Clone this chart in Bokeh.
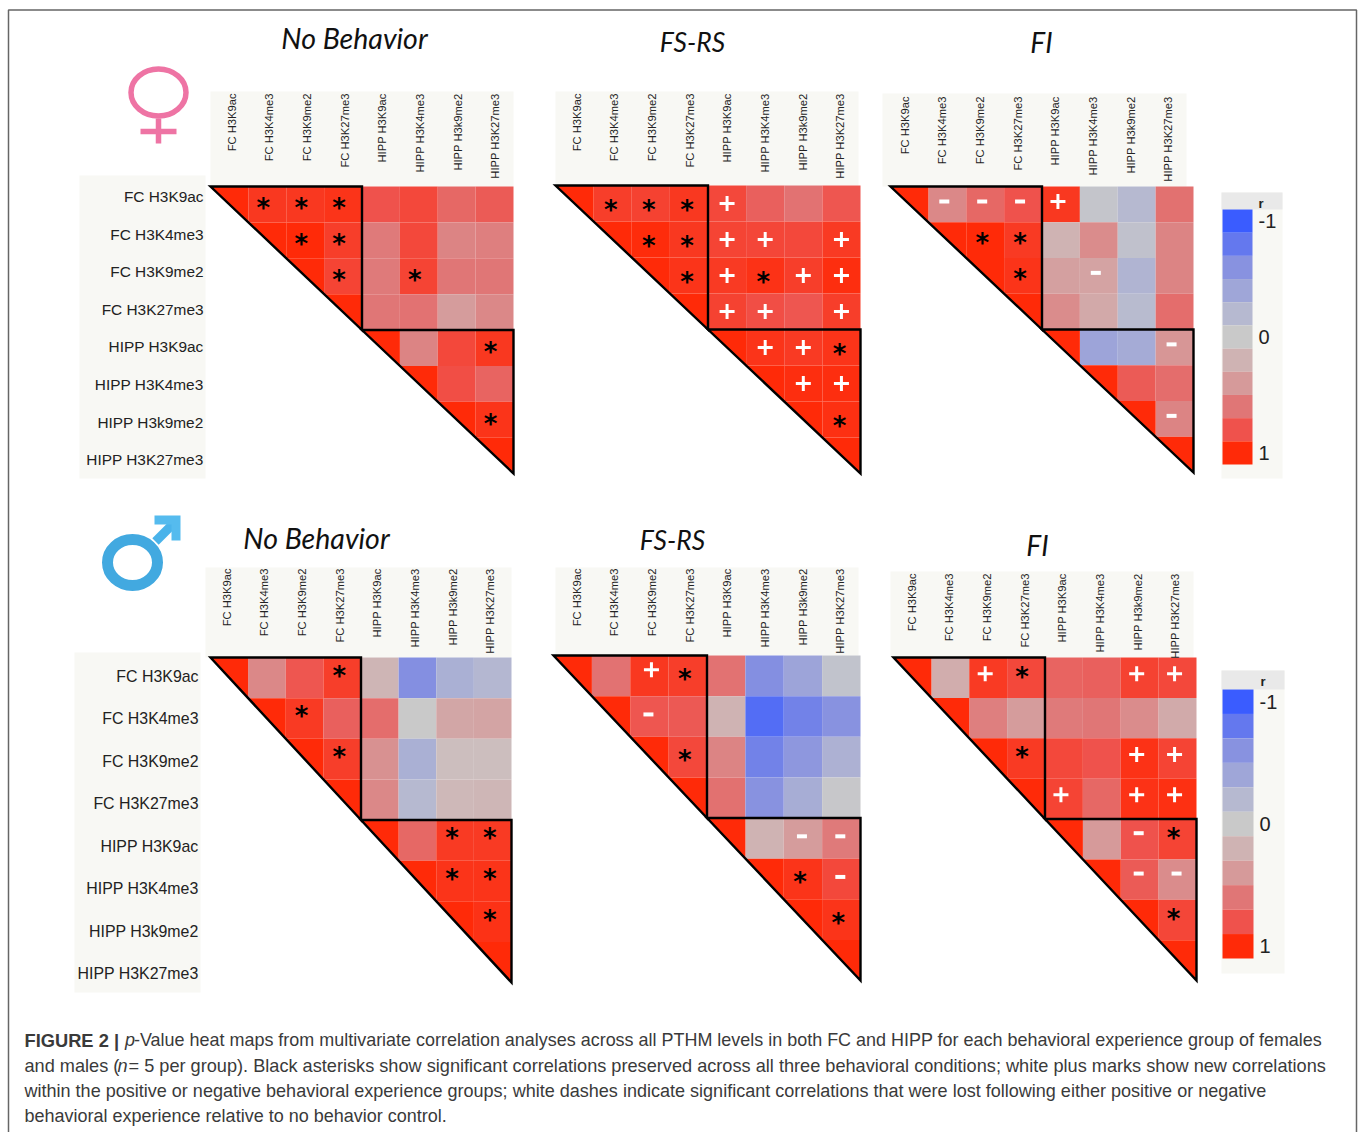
from bokeh.plotting import figure
from bokeh.models import Range1d
from bokeh.core.properties import value
from bokeh.embed import file_html
from bokeh.resources import INLINE
import numpy as np
import math

row_labels = ["FC H3K9ac", "FC H3K4me3", "FC H3K9me2", "FC H3K27me3",
              "HIPP H3K9ac", "HIPP H3K4me3", "HIPP H3k9me2", "HIPP H3K27me3"]
col_labels_f = ["FC H3K9ac", "FC H3K4me3", "FC H3K9me2", "FC H3K27me3",
                "HIPP H3K9ac", "HIPP H3K4me3", "HIPP H3k9me2", "HIPP H3K27me3"]
col_labels_m = col_labels_f

scale_r = [-1, -0.8, -0.6, -0.4, -0.2, 0, 0.2, 0.4, 0.6, 0.8, 1]
scale_colors = ["#3a5cff", "#6478ee", "#8892e0", "#9fa6d8", "#b6b9d0", "#c9c9c9",
                "#cfb3b3", "#d69a9a", "#e07676", "#ef524c", "#ff2a08"]
scale_ticks = [("-1", 0), ("0", 5), ("1", 10)]

# upper-triangle correlations, row by row (diagonal left out)
r_f_nb = [[.93, .93, .95, .80, .85, .68, .75],
          [1.0, .90, .58, .85, .52, .55],
          [.87, .58, .87, .60, .60],
          [.60, .62, .38, .50],
          [.52, .85, .93],
          [.82, .70],
          [.95]]
r_f_fs = [[.90, .88, .93, .85, .72, .62, .78],
          [.99, .93, .87, .86, .85, .92],
          [.95, .92, .96, .90, .98],
          [.88, .82, .78, .90],
          [.95, .92, .95],
          [.98, .98],
          [.97]]
r_f_fi = [[.50, .68, .80, .93, -.05, -.20, .63],
          [1.0, .92, .20, .48, -.10, .52],
          [.95, .35, .33, -.25, .52],
          [.48, .28, -.18, .65],
          [-.42, -.35, .42],
          [.75, .65],
          [.52]]
r_m_nb = [[.50, .78, .90, .18, -.62, -.30, -.22],
          [.92, .72, .65, 0.0, .30, .32],
          [.90, .45, -.30, .10, .10],
          [.50, -.20, .15, .17],
          [.68, .92, .92],
          [.95, .95],
          [.96]]
r_m_fs = [[.62, .93, .90, .62, -.62, -.42, -.08],
          [.78, .76, .20, -.88, -.72, -.60],
          [.85, .52, -.72, -.55, -.28],
          [.63, -.60, -.33, -.02],
          [.20, .38, .58],
          [.95, .85],
          [.95]]
r_m_fi = [[.25, .92, .85, .70, .72, .88, .85],
          [.55, .38, .58, .60, .48, .27],
          [.92, .85, .80, .96, .87],
          [.87, .68, .96, .97],
          [.40, .80, .87],
          [.75, .48],
          [.86]]

# significance marks as (row, column)
stars_f_nb = [(0, 1), (0, 2), (0, 3), (1, 2), (1, 3), (2, 3), (2, 5), (4, 7), (6, 7)]
plus_f_nb = []
dash_f_nb = []
stars_f_fs = [(0, 1), (0, 2), (0, 3), (1, 2), (1, 3), (2, 3), (2, 5), (4, 7), (6, 7)]
plus_f_fs = [(0, 4), (1, 4), (1, 5), (1, 7), (2, 4), (2, 6), (2, 7), (3, 4), (3, 5), (3, 7),
             (4, 5), (4, 6), (5, 6), (5, 7)]
dash_f_fs = []
stars_f_fi = [(1, 2), (1, 3), (2, 3)]
plus_f_fi = [(0, 4)]
dash_f_fi = [(0, 1), (0, 2), (0, 3), (2, 5), (4, 7), (6, 7)]
stars_m_nb = [(0, 3), (1, 2), (2, 3), (4, 6), (4, 7), (5, 6), (5, 7), (6, 7)]
plus_m_nb = []
dash_m_nb = []
stars_m_fs = [(0, 3), (2, 3), (5, 6), (6, 7)]
plus_m_fs = [(0, 2)]
dash_m_fs = [(1, 2), (4, 6), (4, 7), (5, 7)]
stars_m_fi = [(0, 3), (2, 3), (4, 7), (6, 7)]
plus_m_fi = [(0, 2), (0, 6), (0, 7), (2, 6), (2, 7), (3, 4), (3, 6), (3, 7)]
dash_m_fi = [(4, 6), (5, 6), (5, 7)]

title_nb, title_fs, title_fi = "No Behavior", "FS-RS", "FI"

caption = [
    [("FIGURE 2 |", "bold", 24), ("p", "italic", 124.5),
     ("-Value heat maps from multivariate correlation analyses across all PTHM levels in both FC and HIPP for each behavioral experience group of females", "normal", 133.5)],
    [("and males (", "normal", 24), ("n", "italic", 117),
     ("= 5 per group). Black asterisks show significant correlations preserved across all three behavioral conditions; white plus marks show new correlations", "normal", 128)],
    [("within the positive or negative behavioral experience groups; white dashes indicate significant correlations that were lost following either positive or negative", "normal", 24)],
    [("behavioral experience relative to no behavior control.", "normal", 24)],
]
caption_sizes = ["17.97px", "18.17px", "18.05px", "18px"]

BG = "#f8f8f4"
W, H = 1358, 1132
p = figure(width=W, height=H, x_range=Range1d(0, W), y_range=Range1d(H, 0),
           output_backend="svg", toolbar_location=None, min_border=0,
           background_fill_color="white", border_fill_color="white", outline_line_color=None)
p.xaxis.visible = False
p.yaxis.visible = False
p.grid.visible = False


def color_of(r):
    rgb = [int(scale_colors[i][j:j + 2], 16) for i in range(len(scale_colors)) for j in (1, 3, 5)]
    rgb = np.array(rgb).reshape(-1, 3)
    return "#%02x%02x%02x" % tuple(int(round(np.interp(r, scale_r, rgb[:, k]))) for k in range(3))


def panel(vals, stars, plus, dash, col_labels, x0, x1, y0, y1, hx0, hx1, hy0, hy1, lab_x0, lab_top,
          star_off=(0, 0), plus_off=(0, 0), dash_off=(0, 0)):
    cw, ch = (x1 - x0) / 8, (y1 - y0) / 8
    p.quad(left=[hx0], right=[hx1], top=[hy0], bottom=[hy1], fill_color=BG, line_color=None)
    L, R, T, B, C = [], [], [], [], []
    for i, row in enumerate(vals):
        for k, v in enumerate(row):
            c = i + 1 + k
            L.append(x0 + c * cw); R.append(x0 + (c + 1) * cw)
            T.append(y0 + i * ch); B.append(y0 + (i + 1) * ch)
            C.append(color_of(v))
    p.quad(left=L, right=R, top=T, bottom=B, fill_color=C, line_color=None)
    xs = [[x0 + i * cw, x0 + (i + 1) * cw, x0 + (i + 1) * cw] for i in range(8)]
    ys = [[y0 + i * ch, y0 + i * ch, y0 + (i + 1) * ch] for i in range(8)]
    p.patches(xs, ys, fill_color=color_of(1), line_color=None)
    p.patches([[x0, x0 + 4 * cw, x0 + 4 * cw], [x0 + 4 * cw, x1, x1]],
              [[y0, y0, y0 + 4 * ch], [y0 + 4 * ch, y0 + 4 * ch, y1]],
              fill_color=None, line_color="black", line_width=2.4, line_join="miter")
    p.text([lab_x0 + i * 37.7 for i in range(8)], [lab_top] * 8, text=col_labels,
           angle=math.pi / 2, text_align="right", text_baseline="middle",
           text_font=value("Liberation Sans"), text_font_size="11.2px", text_color="#222222")

    def mx(lst, off):
        return [x0 + (c + .5) * cw + off[0] for _, c in lst]

    def my(lst, off):
        return [y0 + (r + .5) * ch + off[1] for r, _ in lst]
    if stars:
        p.text(mx(stars, star_off), my(stars, star_off), text=["*"] * len(stars), text_align="center",
               text_baseline="alphabetic", text_font=value("DejaVu Sans"), text_font_style="bold",
               text_font_size="26px", text_color="black")
    if plus:
        p.scatter(mx(plus, plus_off), my(plus, plus_off), marker="cross", size=15, line_color="white", line_width=3)
    if dash:
        p.scatter(mx(dash, dash_off), my(dash, dash_off), marker="dash", size=10, line_color="white", line_width=4)


def row_block(x0, x1, y0, y1, right, y_first, step, size):
    p.quad(left=[x0], right=[x1], top=[y0], bottom=[y1], fill_color=BG, line_color=None)
    p.text([right] * 8, [y_first + i * step for i in range(8)], text=row_labels,
           text_align="right", text_baseline="middle",
           text_font=value("Liberation Sans"), text_font_size=size, text_color="#222222")


def legend(x0, x1, y0, y_head, y_cells, y_end, cx1, lab_x, r_x, r_y):
    p.quad(left=[x0], right=[x1], top=[y0], bottom=[y_end], fill_color=BG, line_color=None)
    p.quad(left=[x0], right=[x1], top=[y0], bottom=[y_head], fill_color="#e9e9e9", line_color=None)
    n = len(scale_colors)
    step = (y_cells - y_head) / n
    p.quad(left=[x0 + 1] * n, right=[cx1] * n,
           top=[y_head + i * step for i in range(n)], bottom=[y_head + (i + 1) * step for i in range(n)],
           fill_color=scale_colors, line_color=None)
    p.text([lab_x] * 3, [y_head + (k + .5) * step for _, k in scale_ticks], text=[t for t, _ in scale_ticks],
           text_align="left", text_baseline="middle", text_font=value("Liberation Sans"),
           text_font_size="20px", text_color="#222222")
    p.text([r_x], [r_y], text=["r"], text_align="left", text_baseline="middle", text_font=value("Liberation Sans"),
           text_font_style="bold", text_font_size="13px", text_color="#222222")


p.line([8, 8, 1356, 1356], [1132, 9.5, 9.5, 1132], line_color="#666666", line_width=1.5)

row_block(79, 205, 175, 478, 203, 196, 37.6, "15.4px")
row_block(74, 200, 652, 992, 198, 675.5, 42.5, "15.9px")

panel(r_f_nb, stars_f_nb, plus_f_nb, dash_f_nb, col_labels_f, 210, 513, 186, 473, 210, 513, 91, 186, 231, 93,
      star_off=(-4, 4))
panel(r_f_fs, stars_f_fs, plus_f_fs, dash_f_fs, col_labels_f, 555, 860, 185, 473, 555, 858, 91, 185, 576, 93,
      star_off=(-2, 6), plus_off=(0, 0))
panel(r_f_fi, stars_f_fi, plus_f_fi, dash_f_fi, col_labels_f, 890, 1193, 186, 472, 882, 1186, 93, 186, 904, 96,
      star_off=(-3, 3), plus_off=(-3, -3), dash_off=(-3, -3))
panel(r_m_nb, stars_m_nb, plus_m_nb, dash_m_nb, col_labels_m, 210, 511, 657, 982, 205, 511, 567, 657, 226, 568,
      star_off=(-3, -2))
panel(r_m_fs, stars_m_fs, plus_m_fs, dash_m_fs, col_labels_m, 553, 860, 655, 980, 555, 858, 567, 655, 576, 568,
      star_off=(-3, 3), plus_off=(2, -6), dash_off=(-1, -2))
panel(r_m_fi, stars_m_fi, plus_m_fi, dash_m_fi, col_labels_m, 893, 1196, 657, 980, 890, 1193, 571, 657, 911, 573,
      star_off=(-4, -1), plus_off=(-3, -4), dash_off=(-1, -6))

for t, x, y, s in [(title_nb, 354, 37, "28.5px"), (title_fs, 692, 41, "26.5px"), (title_fi, 1041, 41, "28px"),
                   (title_nb, 316, 537, "28.5px"), (title_fs, 672, 539, "26.5px"), (title_fi, 1037, 544, "28px")]:
    p.text([x], [y], text=[t], text_align="center", text_baseline="middle", text_font=value("Lato"),
           text_font_style="italic", text_font_size=s, text_color="#111111")

legend(1221, 1282, 192, 209, 464, 478, 1252, 1258, 1258, 203)
legend(1221, 1284, 670, 689, 958, 973, 1253, 1259, 1260, 681)

PINK, BLUE = "#ee74a4", "#42a9e0"
p.ellipse([158], [92], width=55, height=47, fill_color=None, line_color=PINK, line_width=5.5)
p.line([158, 158], [118, 143], line_color=PINK, line_width=5.5)
p.line([140, 176], [131, 131], line_color=PINK, line_width=5.5)
p.ellipse([132], [562], width=50, height=46, fill_color=None, line_color=BLUE, line_width=11)
p.line([155, 176], [541, 520], line_color="#4ab3ea", line_width=9)
p.patches([[154, 180, 180, 171, 171, 154]], [[515, 515, 540, 540, 524, 524]], fill_color="#55bbee", line_color=None)

for line, y, size in zip(caption, [1039.5, 1065.5, 1090.5, 1115.5], caption_sizes):
    for txt, style, x in line:
        p.text([x], [y], text=[txt], text_align="left", text_baseline="middle",
               text_font=value("Liberation Sans"), text_font_style=style,
               text_font_size="18.3px" if style == "bold" else size, text_color="#3a3a3a")

open("out.html", "w").write(file_html(p, INLINE))
